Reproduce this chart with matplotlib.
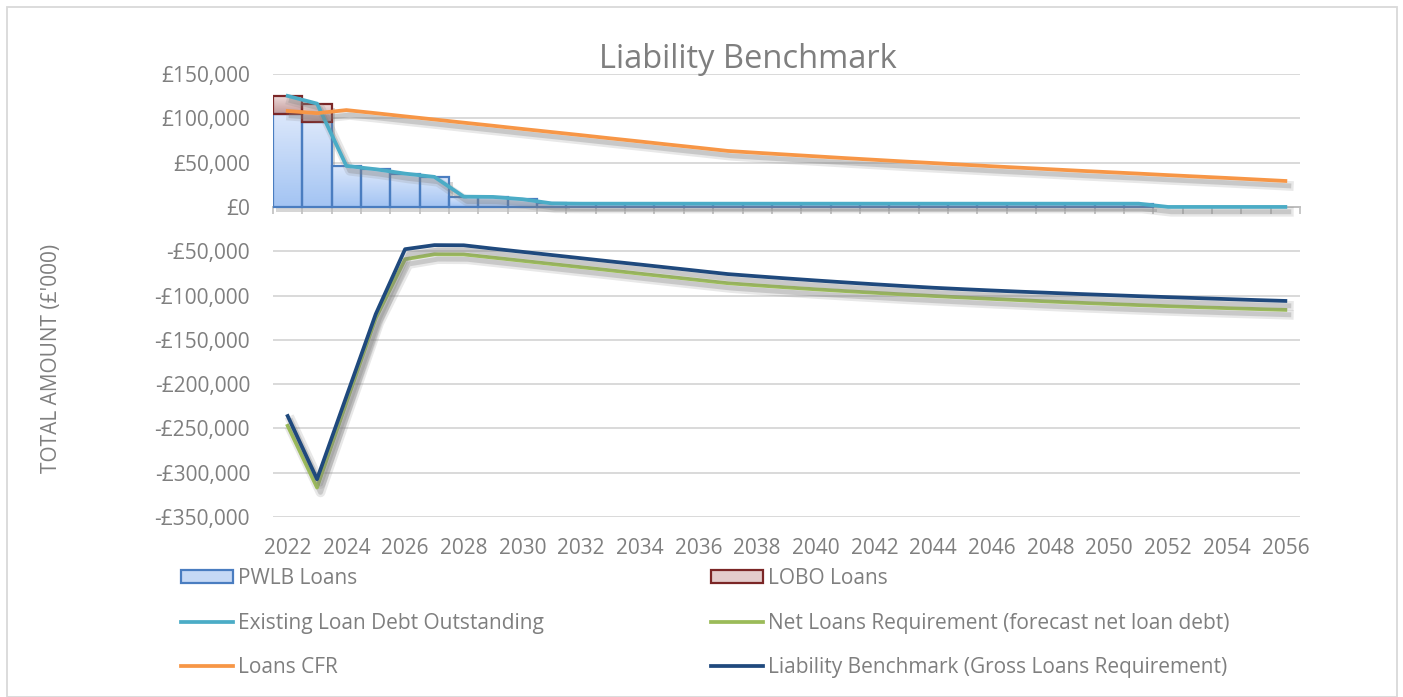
import matplotlib
matplotlib.use("Agg")
import matplotlib.pyplot as plt
import matplotlib.patheffects as pe
import numpy as np
from matplotlib.patches import Rectangle, Patch
from matplotlib.lines import Line2D
from matplotlib.colors import LinearSegmentedColormap
from matplotlib.ticker import NullFormatter

plt.rcParams['font.family'] = ['Open Sans', 'DejaVu Sans']

# ---------------- data ----------------
years = list(range(2022, 2057))

pwlb_loans = [104600, 96300, 46300, 42500, 37600, 33900, 11600, 11300, 8700, 4000,
              3700, 3700, 3700, 3700, 3700, 3700, 3700, 3700, 3700, 3700,
              3700, 3700, 3700, 3700, 3700, 3700, 3700, 3700, 3700, 3700,
              0, 0, 0, 0, 0]

lobo_loans = [20700, 20300, 0, 0, 0, 0, 0, 0, 0, 0,
              0, 0, 0, 0, 0, 0, 0, 0, 0, 0,
              0, 0, 0, 0, 0, 0, 0, 0, 0, 0,
              0, 0, 0, 0, 0]

existing_debt = [125300, 116600, 46300, 42500, 37600, 33900, 11600, 11300, 8700, 4000,
                 3700, 3700, 3700, 3700, 3700, 3700, 3700, 3700, 3700, 3700,
                 3700, 3700, 3700, 3700, 3700, 3700, 3700, 3700, 3700, 3700,
                 0, 0, 0, 0, 0]

net_loans_req = [-247000, -316700, -221000, -125600, -59000, -53400, -53600, -57200, -60800, -64400,
                 -68000, -71600, -75300, -78900, -82500, -86100, -88500, -90800, -93000, -95000,
                 -96900, -98800, -100500, -102200, -103800, -105300, -106800, -108200, -109500, -110800,
                 -112000, -113100, -114200, -115200, -116200]

loans_cfr = [108300, 105800, 109300, 105800, 102200, 98700, 95100, 91600, 88000, 84500,
             81000, 77400, 73900, 70300, 66800, 63200, 61100, 59100, 57100, 55100,
             53200, 51300, 49500, 47700, 45900, 44200, 42500, 40800, 39200, 37600,
             35900, 34300, 32700, 31000, 29300]

liability_benchmark = [-236000, -307300, -214000, -121000, -47700, -43100, -43300, -47100, -50700, -54300,
                       -57900, -61500, -65000, -68600, -72200, -75800, -78300, -80700, -83000, -85200,
                       -87300, -89300, -91200, -92800, -94300, -95700, -97000, -98300, -99500, -100700,
                       -101800, -102900, -104000, -105100, -106100]

y_ticks = list(range(-350000, 150001, 50000))
x_tick_years = years[::2]

title = "Liability Benchmark"
y_label = "TOTAL AMOUNT (£'000)"
labels = ["PWLB Loans", "LOBO Loans", "Existing Loan Debt Outstanding",
          "Net Loans Requirement (forecast net loan debt)", "Loans CFR",
          "Liability Benchmark (Gross Loans Requirement)"]

# ---------------- style ----------------
TXT = '#7f7f7f'
GRID = '#d9d9d9'
C_PWLB_EDGE = '#4a7dc0'
C_LOBO_EDGE = '#7b2626'
C_EXIST = '#4bacc6'
C_NET = '#9bbb59'
C_CFR = '#f79646'
C_LB = '#1f497d'

pwlb_cmap = LinearSegmentedColormap.from_list('pwlb', ['#a3c4f3', '#dbe7fb'])
lobo_cmap = LinearSegmentedColormap.from_list('lobo', ['#c29a9a', '#efdcdc'])

fig = plt.figure(figsize=(14.03, 6.97), dpi=100)
ax = fig.add_axes([0.1946, 0.2582, 0.7320, 0.6356])

x = np.array(years)
pw = np.array(pwlb_loans)
lo = np.array(lobo_loans)

shadow_patch = [pe.SimplePatchShadow(offset=(2.5, -3.5), shadow_rgbFace='#8a8a8a', alpha=0.35)]

pw_lw = [1.6 if v > 0 else 0 for v in pwlb_loans]
lo_lw = [1.6 if v > 0 else 0 for v in lobo_loans]

# bar shadows only
ax.bar(x, pw, width=1.0, color='grey', linewidth=0, path_effects=shadow_patch, zorder=1.5)
ax.bar(x, lo, bottom=pw, width=1.0, color='grey', linewidth=0, path_effects=shadow_patch, zorder=1.5)

# bar outlines
bars_pw = ax.bar(x, pw, width=1.0, facecolor='none', edgecolor=C_PWLB_EDGE, linewidth=pw_lw, zorder=2.5)
bars_lo = ax.bar(x, lo, bottom=pw, width=1.0, facecolor='none', edgecolor=C_LOBO_EDGE, linewidth=lo_lw, zorder=2.6)

grad = np.linspace(0, 1, 64).reshape(-1, 1)
for bars, cmap in ((bars_pw, pwlb_cmap), (bars_lo, lobo_cmap)):
    for r in bars:
        h = r.get_height()
        if h == 0:
            continue
        x0, y0, w = r.get_x(), r.get_y(), r.get_width()
        im = ax.imshow(grad, extent=(x0, x0 + w, y0, y0 + h), origin='lower',
                       aspect='auto', cmap=cmap, zorder=2, interpolation='bilinear')
        clip = Rectangle((x0, y0), w, h, transform=ax.transData)
        im.set_clip_path(clip)

def line_fx():
    return [pe.SimpleLineShadow(offset=(2.5, -3.5), shadow_color='#808080', alpha=0.18, linewidth=7),
            pe.SimpleLineShadow(offset=(2.5, -3.5), shadow_color='#808080', alpha=0.3, linewidth=3.5),
            pe.Normal()]

LW = 2.7
ax.plot(x, existing_debt, color=C_EXIST, lw=LW, zorder=3, path_effects=line_fx(), solid_joinstyle='round')
ax.plot(x, net_loans_req, color=C_NET, lw=LW, zorder=3, path_effects=line_fx(), solid_joinstyle='round')
ax.plot(x, loans_cfr, color=C_CFR, lw=LW, zorder=3, path_effects=line_fx(), solid_joinstyle='round')
ax.plot(x, liability_benchmark, color=C_LB, lw=LW, zorder=3, path_effects=line_fx(), solid_joinstyle='round')

ax.set_xlim(years[0] - 0.5, years[-1] + 0.5)
ax.set_ylim(y_ticks[0], y_ticks[-1])
ax.set_yticks(y_ticks)
ax.set_yticklabels([("-£{:,}".format(-v) if v < 0 else "£{:,}".format(v)) for v in y_ticks])
ax.set_xticks(x_tick_years)
ax.set_xticklabels([str(v) for v in x_tick_years])
ax.tick_params(axis='y', length=0, pad=16.5, labelsize=15, labelcolor=TXT)
ax.tick_params(axis='x', length=0, pad=15, labelsize=15, labelcolor=TXT)
ax.yaxis.grid(True, color=GRID, linewidth=1.4)
ax.set_axisbelow(True)
for s in ax.spines.values():
    s.set_visible(False)

# horizontal category axis line at zero with boundary ticks
zero_frac = (0 - y_ticks[0]) / (y_ticks[-1] - y_ticks[0])
sec = ax.secondary_xaxis(zero_frac)
sec.set_xticks(np.arange(years[0] - 0.5, years[-1] + 1.0, 1.0))
sec.xaxis.set_major_formatter(NullFormatter())
sec.xaxis.set_ticks_position('bottom')
sec.tick_params(axis='x', which='both', direction='out', length=5, width=1.2, color='#bfbfbf',
                labelbottom=False, labeltop=False, bottom=True, top=False)
for k, s in sec.spines.items():
    s.set_visible(k == 'bottom')
    s.set_color('#bfbfbf')
    s.set_linewidth(1.4)
sec.set_zorder(2.2)

# titles
fig.text(0.533, 0.903, title, ha='center', va='baseline', fontsize=23.5, color=TXT)
fig.text(0.037, 0.486, y_label, rotation=90, ha='center', va='center', fontsize=15, color=TXT)

# legend
handles = [Patch(facecolor='#c6d9f5', edgecolor=C_PWLB_EDGE, linewidth=1.6),
           Line2D([], [], color=C_EXIST, lw=LW),
           Line2D([], [], color=C_CFR, lw=LW),
           Patch(facecolor='#e3cccc', edgecolor=C_LOBO_EDGE, linewidth=1.6),
           Line2D([], [], color=C_NET, lw=LW),
           Line2D([], [], color=C_LB, lw=LW)]
leg_labels = [labels[0], labels[2], labels[4], labels[1], labels[3], labels[5]]
fig.legend(handles, leg_labels, ncol=2, loc='upper left', bbox_to_anchor=(0.129, 0.185), frameon=False,
           fontsize=15, labelcolor=TXT, handlelength=2.5, handleheight=0.6, handletextpad=0.25,
           columnspacing=8.0, labelspacing=1.13, borderaxespad=0, borderpad=0)

# outer border
fig.add_artist(Rectangle((0.005, 0.0), 0.9905, 0.99, transform=fig.transFigure, fill=False,
                         edgecolor=GRID, linewidth=1.3))

fig.savefig('out.png', dpi=100)
